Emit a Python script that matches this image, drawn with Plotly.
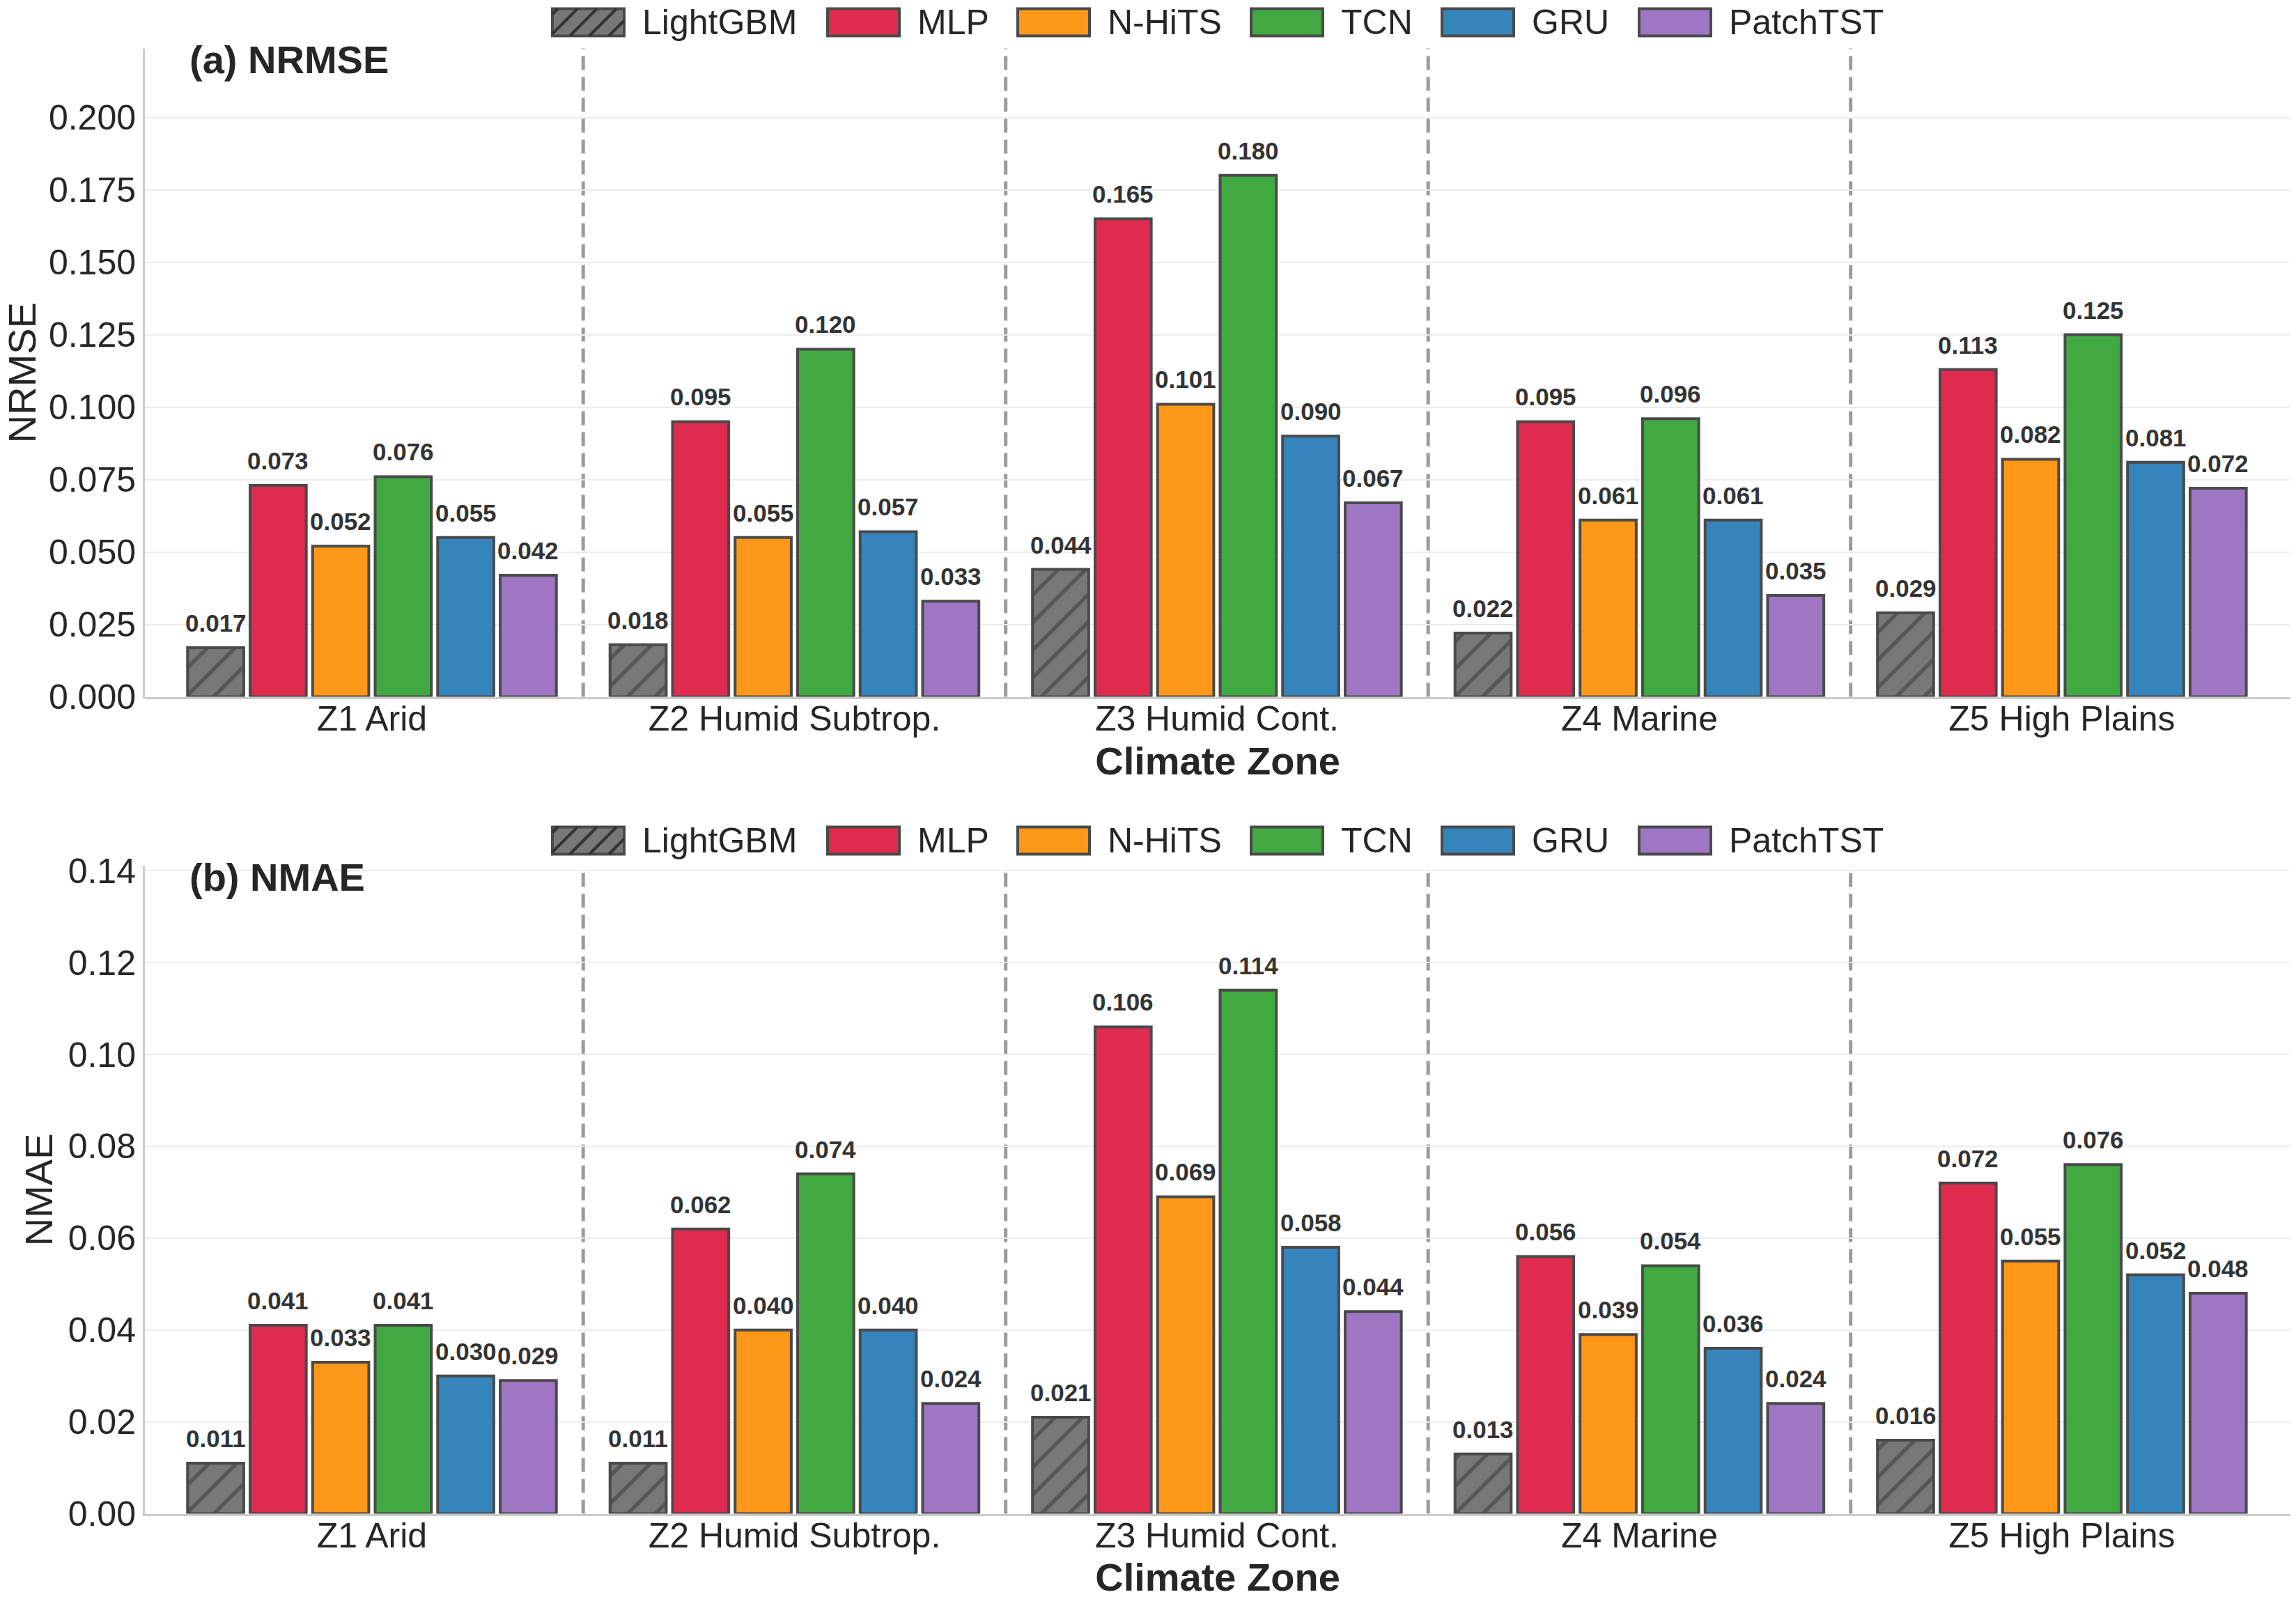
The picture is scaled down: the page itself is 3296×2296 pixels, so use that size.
import plotly.graph_objects as go

W, H = 3296, 2296
FONT = "Liberation Sans, Arial, Helvetica, sans-serif"

zones = ["Z1 Arid", "Z2 Humid Subtrop.", "Z3 Humid Cont.", "Z4 Marine", "Z5 High Plains"]
models = ["LightGBM", "MLP", "N-HiTS", "TCN", "GRU", "PatchTST"]
colors = ["#787878", "#DF2B4F", "#FF9719", "#41A941", "#3584BC", "#9F76C4"]

# (a) NRMSE per model, ordered by zone
nrmse_lightgbm = [0.017, 0.018, 0.044, 0.022, 0.029]
nrmse_mlp = [0.073, 0.095, 0.165, 0.095, 0.113]
nrmse_nhits = [0.052, 0.055, 0.101, 0.061, 0.082]
nrmse_tcn = [0.076, 0.120, 0.180, 0.096, 0.125]
nrmse_gru = [0.055, 0.057, 0.090, 0.061, 0.081]
nrmse_patchtst = [0.042, 0.033, 0.067, 0.035, 0.072]

# (b) NMAE per model, ordered by zone
nmae_lightgbm = [0.011, 0.011, 0.021, 0.013, 0.016]
nmae_mlp = [0.041, 0.062, 0.106, 0.056, 0.072]
nmae_nhits = [0.033, 0.040, 0.069, 0.039, 0.055]
nmae_tcn = [0.041, 0.074, 0.114, 0.054, 0.076]
nmae_gru = [0.030, 0.040, 0.058, 0.036, 0.052]
nmae_patchtst = [0.029, 0.024, 0.044, 0.024, 0.048]

nrmse = [nrmse_lightgbm, nrmse_mlp, nrmse_nhits, nrmse_tcn, nrmse_gru, nrmse_patchtst]
nmae = [nmae_lightgbm, nmae_mlp, nmae_nhits, nmae_tcn, nmae_gru, nmae_patchtst]

panels = [
    dict(data=nrmse, title="(a) NRMSE", ylabel="NRMSE", dtick=0.025, fmt=".3f", top=0.2238,
         xa="x", ya="y", xaxis="xaxis", yaxis="yaxis", dom=(1 - 1000.6 / H, 1 - 69.6 / H),
         title_y=1 - 86 / H, legend_y=32, ystand=20),
    dict(data=nmae, title="(b) NMAE", ylabel="NMAE", dtick=0.02, fmt=".2f", top=0.1411,
         xa="x2", ya="y2", xaxis="xaxis2", yaxis="yaxis2", dom=(1 - 2173.5 / H, 1 - 1243 / H),
         title_y=1 - 1259 / H, legend_y=1207, ystand=5),
]

slot = 0.148
bw = 0.133
XL, XR = 208, 3288

fig = go.Figure()
annotations = []
shapes = []

for p in panels:
    for j, (m, c, vals) in enumerate(zip(models, colors, p["data"])):
        xs = [i + (j - 2.5) * slot for i in range(len(zones))]
        marker = dict(color=c, line=dict(color="#4a4a4a", width=4))
        if m == "LightGBM":
            marker["pattern"] = dict(shape="/", fgcolor="#333333", size=28, solidity=0.2,
                                     fillmode="overlay")
        fig.add_trace(go.Bar(x=xs, y=vals, width=bw, name=m, marker=marker,
                             showlegend=False, xaxis=p["xa"], yaxis=p["ya"]))
        for x, v in zip(xs, vals):
            annotations.append(dict(x=x, y=v, xref=p["xa"], yref=p["ya"], text=f"{v:.3f}",
                                    showarrow=False, yanchor="bottom", yshift=14,
                                    font=dict(family=FONT, size=35, color="#333333", weight="bold")))
    # group separators
    for i in range(len(zones) - 1):
        shapes.append(dict(type="line", xref=p["xa"], yref=p["ya"] + " domain", x0=i + 0.5, x1=i + 0.5,
                           y0=0, y1=1, line=dict(color="#9b9b9b", width=5, dash="20px,10px"), layer="below"))
    # panel title
    annotations.append(dict(x=270 / W, y=p["title_y"], xref="paper", yref="paper", text=p["title"],
                            showarrow=False, xanchor="left", yanchor="middle",
                            font=dict(family=FONT, size=56, color="#262626", weight="bold")))
    # legend
    patch_x = [793, 1188, 1461, 1796, 2070, 2353]
    pw, ph = 103, 39
    cy = p["legend_y"]
    for m, c, px in zip(models, colors, patch_x):
        shapes.append(dict(type="rect", xref="paper", yref="paper", x0=px / W, x1=(px + pw) / W,
                           y0=1 - (cy + ph / 2) / H, y1=1 - (cy - ph / 2) / H,
                           fillcolor=c, line=dict(color="#4a4a4a", width=4)))
        if m == "LightGBM":
            y0p = cy + ph / 2
            h = ph
            k = px - h + 8
            while k < px + pw:
                xs0, ys0 = k, 0.0
                xs1, ys1 = k + h, h
                if xs0 < px:
                    ys0 = px - k
                    xs0 = px
                if xs1 > px + pw:
                    ys1 = px + pw - k
                    xs1 = px + pw
                shapes.append(dict(type="line", xref="paper", yref="paper",
                                   x0=xs0 / W, x1=xs1 / W,
                                   y0=1 - (y0p - ys0) / H, y1=1 - (y0p - ys1) / H,
                                   line=dict(color="#333333", width=4)))
                k += 28
        annotations.append(dict(x=(px + pw + 24) / W, y=1 - cy / H, xref="paper", yref="paper",
                                text=m, showarrow=False, xanchor="left", yanchor="middle",
                                font=dict(family=FONT, size=50, color="#262626")))

axis_common = dict(showline=True, linecolor="#cccccc", linewidth=3, zeroline=False, automargin=False,
                   tickfont=dict(family=FONT, size=50, color="#262626"))

layout = dict(
    width=W, height=H, margin=dict(l=0, r=0, t=0, b=0, autoexpand=False),
    paper_bgcolor="white", plot_bgcolor="white",
    barmode="overlay", font=dict(family=FONT, color="#262626"),
    annotations=annotations, shapes=shapes,
)
for p in panels:
    layout[p["xaxis"]] = dict(
        axis_common, domain=[XL / W, XR / W], range=[-0.5375, 4.541], anchor=p["ya"],
        tickvals=list(range(len(zones))), ticktext=zones, showgrid=False, ticks="",
        ticklabelstandoff=-15,
        title=dict(text="Climate Zone", font=dict(family=FONT, size=56, color="#262626", weight="bold"),
                   standoff=15),
    )
    layout[p["yaxis"]] = dict(
        axis_common, domain=list(p["dom"]), range=[0, p["top"]], anchor=p["xa"],
        dtick=p["dtick"], tick0=0, tickformat=p["fmt"], showgrid=True, gridcolor="#ebebeb", gridwidth=2,
        ticks="", title=dict(text=p["ylabel"], font=dict(family=FONT, size=56, color="#262626"),
                             standoff=p["ystand"]),
    )

fig.update_layout(**layout)
fig.write_html("out.html")
